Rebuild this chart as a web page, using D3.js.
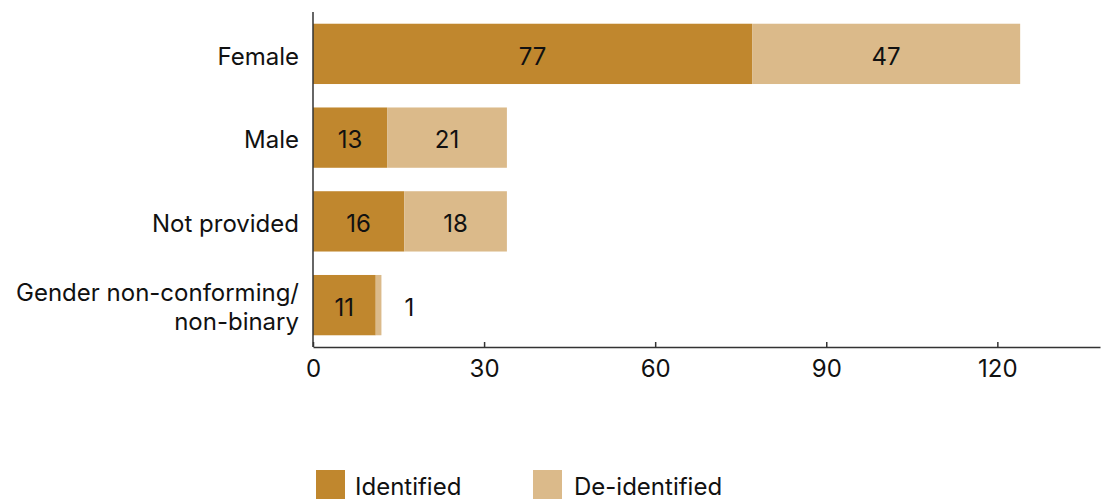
<!DOCTYPE html>
<html><head><meta charset="utf-8">
<script src="https://cdn.jsdelivr.net/npm/d3@7"></script>
<style>body{margin:0;background:#fff;} text{font-family:Inter, "Noto Sans", sans-serif;}</style>
</head><body>
<svg id="c" width="1102" height="500"></svg>
<script>
const categories = ["Female","Male","Not provided","Gender non-conforming/\nnon-binary"];
const identified = [77,13,16,11];
const deidentified = [47,21,18,1];
const seriesNames = ["Identified","De-identified"];
const colors = ["#C0872E","#DBBA8A"];
const xTicks = [0,30,60,90,120];

const svg = d3.select("#c");
const m = {l:313, r:1100, t:12, b:347};
const x = d3.scaleLinear().domain([0,138]).range([m.l, m.r]);
const y = d3.scaleBand().domain(categories).range([m.t, m.b]).paddingInner(0.28).paddingOuter(0.14);

const data = categories.map((c,i)=>({c, v:[identified[i], deidentified[i]]}));
const fs = 24;

data.forEach(d=>{
  let x0 = 0;
  d.v.forEach((v,j)=>{
    svg.append("rect").attr("x", x(x0)).attr("y", y(d.c)).attr("width", x(x0+v)-x(x0)).attr("height", y.bandwidth()).attr("fill", colors[j]);
    const w = x(x0+v)-x(x0);
    let lx = x(x0+v/2);
    if (w < 30) lx = x(x0+v) + 28;
    svg.append("text").attr("x", lx).attr("y", y(d.c)+y.bandwidth()/2+2).attr("dy","0.36em").attr("text-anchor","middle").attr("font-size",fs).attr("fill","#111").text(v);
    x0 += v;
  });
});

// axes
const xAxis = svg.append("g").attr("transform",`translate(0,${m.b})`)
  .call(d3.axisBottom(x).tickValues(xTicks).tickSize(-5).tickPadding(10).tickSizeOuter(0));
xAxis.select(".domain").attr("stroke","#333").attr("stroke-width",1.5);
xAxis.selectAll(".tick line").attr("stroke","#333").attr("stroke-width",1.5);
xAxis.selectAll(".tick text").attr("font-size",fs).attr("fill","#111").attr("font-family","Inter, sans-serif").attr("dy","0.85em");

svg.append("line").attr("x1",m.l).attr("x2",m.l).attr("y1",m.t).attr("y2",m.b).attr("stroke","#333").attr("stroke-width",1.5);

categories.forEach(c=>{
  const lines = c.split("\n");
  const cy = y(c)+y.bandwidth()/2+2;
  const lh = 29;
  lines.forEach((ln,i)=>{
    svg.append("text").attr("x",299).attr("y", cy + (i-(lines.length-1)/2)*lh).attr("dy","0.36em")
      .attr("text-anchor","end").attr("font-size",fs).attr("fill","#111").text(ln);
  });
});

// legend
const lg = [{x:316,tx:355},{x:533,tx:574}];
seriesNames.forEach((s,i)=>{
  svg.append("rect").attr("x",lg[i].x).attr("y",470).attr("width",29).attr("height",29).attr("fill",colors[i]);
  svg.append("text").attr("x",lg[i].tx).attr("y",486).attr("dy","0.36em").attr("font-size",fs).attr("fill","#111").text(s);
});
</script>
</body></html>
